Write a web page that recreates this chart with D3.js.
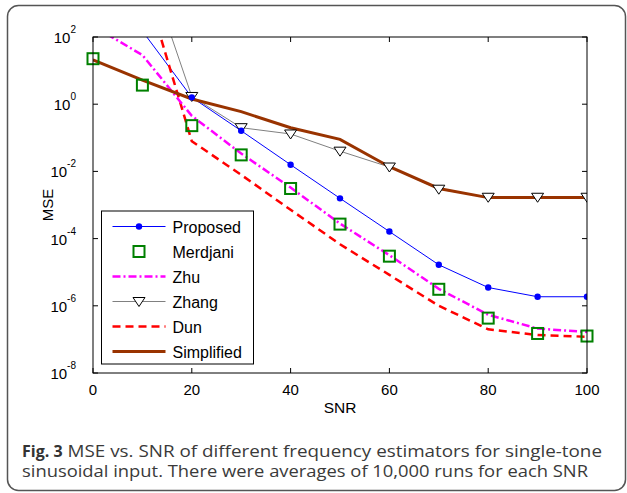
<!DOCTYPE html>
<html>
<head>
<meta charset="utf-8">
<script src="https://d3js.org/d3.v7.min.js"></script>
<style>
  body { margin: 0; background: #fff; }
  svg { display: block; }
</style>
</head>
<body>
<script>
// SNR values (x) and MSE per estimator
var snr = [0, 10, 20, 30, 40, 50, 60, 70, 80, 90, 100];
var proposed   = [3e3, 1.5e2, 1.6, 1.62e-1, 1.58e-2, 1.58e-3, 1.62e-4, 1.66e-5, 3.5e-6, 1.86e-6, 1.86e-6];
var merdjani   = [22.6, 3.7, 0.23, 0.031, 3.1e-3, 2.7e-4, 3.0e-5, 3.1e-6, 4.3e-7, 1.5e-7, 1.26e-7];
var zhu        = [214, 29, 0.45, 0.034, 3.3e-3, 2.8e-4, 3.2e-5, 3.2e-6, 5.4e-7, 2.1e-7, 1.66e-7];
var zhang      = [1e6, 3.5e4, 1.7, 0.2, 0.13, 0.04, 0.0135, 2.95e-3, 1.7e-3, 1.7e-3, 1.7e-3];
var dun        = [1e5, 6.3e3, 0.079, 7.9e-3, 7.2e-4, 6.8e-5, 8.3e-6, 1.0e-6, 2.0e-7, 1.35e-7, 1.2e-7];
var simplified = [20.9, 5.2, 1.43, 0.6, 0.2, 0.09, 0.0138, 3.1e-3, 1.66e-3, 1.66e-3, 1.66e-3];

var xTicks = [0, 20, 40, 60, 80, 100];
var yTickExp = [2, 0, -2, -4, -6, -8];
var legendNames = ["Proposed", "Merdjani", "Zhu", "Zhang", "Dun", "Simplified"];
var captionBold = "Fig. 3";
var captionLines = ["MSE vs. SNR of different frequency estimators for single-tone",
                    "sinusoidal input. There were averages of 10,000 runs for each SNR"];

var W = 627, H = 493;
var margin = {top: 37, left: 93},
    width = 587 - margin.left,
    height = 373 - margin.top;

var svg = d3.select("body").append("svg")
    .attr("width", W).attr("height", H);

// outer rounded frame
svg.append("rect")
    .attr("x", 7.5).attr("y", 5.5)
    .attr("width", 618).attr("height", 485)
    .attr("rx", 11)
    .attr("fill", "none").attr("stroke", "#555").attr("stroke-width", 1.5);

var g = svg.append("g").attr("transform", "translate(" + margin.left + "," + margin.top + ")");

var x = d3.scaleLinear().domain([0, 100]).range([0, width]);
var y = d3.scaleLog().domain([1e-8, 1e2]).range([height, 0]);

svg.append("defs").append("clipPath").attr("id", "clip")
  .append("rect").attr("width", width).attr("height", height);

var font = "'Liberation Sans', Arial, sans-serif";

// ticks pointing inwards on all four sides
g.selectAll(".xt").data(xTicks).enter().append("line")
    .attr("x1", d => x(d)).attr("x2", d => x(d))
    .attr("y1", height).attr("y2", height - 5)
    .attr("stroke", "#000");
g.selectAll(".xt2").data(xTicks).enter().append("line")
    .attr("x1", d => x(d)).attr("x2", d => x(d))
    .attr("y1", 0).attr("y2", 5)
    .attr("stroke", "#000");
g.selectAll(".yt").data(yTickExp).enter().append("line")
    .attr("x1", 0).attr("x2", 5)
    .attr("y1", d => y(Math.pow(10, d))).attr("y2", d => y(Math.pow(10, d)))
    .attr("stroke", "#000");
g.selectAll(".yt2").data(yTickExp).enter().append("line")
    .attr("x1", width).attr("x2", width - 5)
    .attr("y1", d => y(Math.pow(10, d))).attr("y2", d => y(Math.pow(10, d)))
    .attr("stroke", "#000");

// tick labels
g.selectAll(".xl").data(xTicks).enter().append("text")
    .attr("x", d => x(d)).attr("y", height + 22)
    .attr("text-anchor", "middle")
    .style("font", "15px " + font)
    .text(d => d);

var yl = g.selectAll(".yl").data(yTickExp).enter().append("text")
    .attr("x", -17).attr("y", d => y(Math.pow(10, d)) + 6)
    .attr("text-anchor", "end")
    .style("font", "15px " + font);
yl.append("tspan").text("10");
yl.append("tspan").attr("dy", -10).style("font-size", "10px").text(d => d >= 0 ? d : "-" + (-d));

// axis titles
g.append("text")
    .attr("x", width / 2).attr("y", height + 40)
    .attr("text-anchor", "middle")
    .style("font", "15.5px " + font)
    .text("SNR");
g.append("text")
    .attr("transform", "translate(-40," + (height / 2) + ") rotate(-90)")
    .attr("text-anchor", "middle")
    .style("font", "15px " + font)
    .text("MSE");

// data
var plot = g.append("g").attr("clip-path", "url(#clip)");
var line = d3.line().x((d, i) => x(snr[i])).y(d => y(d));

var styles = {
  proposed:   {color: "#0000ff", w: 1,   dash: null},
  zhu:        {color: "#ff00ff", w: 2.5, dash: "8,3,2,3"},
  zhang:      {color: "#808080", w: 1,   dash: null},
  dun:        {color: "#ff0000", w: 2.5, dash: "8,5"},
  simplified: {color: "#993300", w: 3,   dash: null}
};

function drawLine(data, s) {
  plot.append("path").datum(data)
    .attr("d", line)
    .attr("fill", "none")
    .attr("stroke", s.color)
    .attr("stroke-width", s.w)
    .attr("stroke-dasharray", s.dash);
}

var tri = "M-6,-4L6,-4L0,5Z";

drawLine(zhang, styles.zhang);
drawLine(proposed, styles.proposed);
drawLine(dun, styles.dun);
drawLine(zhu, styles.zhu);
drawLine(simplified, styles.simplified);

plot.selectAll(".tri").data(zhang).enter().append("path")
    .attr("d", tri)
    .attr("transform", (d, i) => "translate(" + x(snr[i]) + "," + y(d) + ")")
    .attr("fill", "#fff").attr("stroke", "#000").attr("stroke-width", 1);

plot.selectAll(".dot").data(proposed).enter().append("circle")
    .attr("cx", (d, i) => x(snr[i])).attr("cy", d => y(d))
    .attr("r", 3.2).attr("fill", "#0000ff");

// Merdjani markers on top, not clipped at the x=0 / x=100 edges
g.selectAll(".sq").data(merdjani).enter().append("rect")
    .attr("x", (d, i) => x(snr[i]) - 5.5).attr("y", d => y(d) - 5.5)
    .attr("width", 11).attr("height", 11)
    .attr("fill", "none").attr("stroke", "#008000").attr("stroke-width", 2);

// axes box
g.append("rect").attr("width", width).attr("height", height)
    .attr("fill", "none").attr("stroke", "#000").attr("stroke-width", 1);

// legend
var lg = svg.append("g").attr("transform", "translate(101.5,211)");
lg.append("rect").attr("width", 152).attr("height", 153)
    .attr("fill", "#fff").attr("stroke", "#000").attr("stroke-width", 1);

var items = lg.selectAll(".item").data(legendNames).enter().append("g")
    .attr("transform", (d, i) => "translate(0," + (15.5 + i * 25) + ")");

items.append("text")
    .attr("x", 71).attr("y", 6)
    .style("font", "16px " + font)
    .text(d => d);

var keys = ["proposed", null, "zhu", "zhang", "dun", "simplified"];
items.each(function(d, i) {
  var it = d3.select(this);
  var k = keys[i];
  if (k) {
    var s = styles[k];
    it.append("line").attr("x1", 11).attr("x2", 64).attr("y1", 0).attr("y2", 0)
      .attr("stroke", s.color).attr("stroke-width", s.w).attr("stroke-dasharray", s.dash);
  }
  if (i === 0) it.append("circle").attr("cx", 37.5).attr("cy", 0).attr("r", 3.2).attr("fill", "#0000ff");
  if (i === 1) it.append("rect").attr("x", 32).attr("y", -5.5).attr("width", 11).attr("height", 11)
      .attr("fill", "none").attr("stroke", "#008000").attr("stroke-width", 2);
  if (i === 3) it.append("path").attr("d", tri).attr("transform", "translate(37.5,0)")
      .attr("fill", "#fff").attr("stroke", "#000");
});

// caption: bold label, then the rest stretched to the line end
var cfont = "'Open Sans', 'Noto Sans', sans-serif";
var bold = svg.append("text").attr("x", 22).attr("y", 457)
    .style("font", "bold 16px " + cfont).attr("fill", "#333")
    .text(captionBold);
var bw = bold.node().getComputedTextLength();
svg.append("text").attr("x", 22 + bw + 5).attr("y", 457)
    .attr("textLength", 602 - (22 + bw + 5)).attr("lengthAdjust", "spacingAndGlyphs")
    .style("font", "16px " + cfont).attr("fill", "#3a3a3a")
    .text(captionLines[0]);
svg.append("text").attr("x", 22).attr("y", 477)
    .attr("textLength", 566).attr("lengthAdjust", "spacingAndGlyphs")
    .style("font", "16px " + cfont).attr("fill", "#3a3a3a")
    .text(captionLines[1]);
</script>
</body>
</html>
